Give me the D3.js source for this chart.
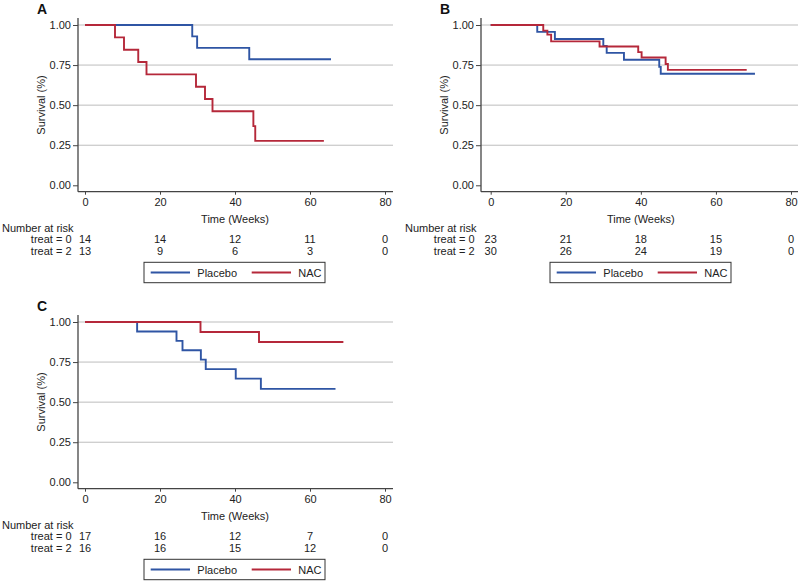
<!DOCTYPE html>
<html><head><meta charset="utf-8">
<script src="https://cdn.jsdelivr.net/npm/d3@7"></script>
<style>body{margin:0;background:#fff}svg{display:block}text{font-family:"Liberation Sans",Arial,sans-serif;fill:#222}</style>
</head><body>
<svg id="c" width="800" height="581"></svg>
<script>
const xTicks = [0, 20, 40, 60, 80];
const yTicks = [0, 0.25, 0.5, 0.75, 1];
const seriesNames = ["Placebo", "NAC"];
const riskLabels = ["treat = 0", "treat = 2"];

// Panel A
const aPlaceboT = [0, 28.6, 29.9, 43.8];
const aPlaceboS = [1, 0.929, 0.857, 0.786];
const aPlaceboEnd = 65.6;
const aNacT = [0, 8.0, 10.4, 14.2, 16.4, 29.6, 32.0, 34.0, 44.9, 45.4];
const aNacS = [1, 0.923, 0.846, 0.769, 0.692, 0.615, 0.538, 0.462, 0.369, 0.277];
const aNacEnd = 63.7;
const aRisk0 = [14, 14, 12, 11, 0];
const aRisk2 = [13, 9, 6, 3, 0];

// Panel B
const bPlaceboT = [0, 12.4, 17.1, 30.0, 30.9, 35.5, 44.9, 45.3];
const bPlaceboS = [1, 0.957, 0.913, 0.869, 0.826, 0.783, 0.739, 0.696];
const bPlaceboEnd = 70.4;
const bNacT = [0, 14.0, 15.1, 16.1, 29.0, 39.3, 40.2, 46.6, 47.2];
const bNacS = [1, 0.965, 0.94, 0.898, 0.866, 0.831, 0.797, 0.757, 0.72];
const bNacEnd = 68.2;
const bRisk0 = [23, 21, 18, 15, 0];
const bRisk2 = [30, 26, 24, 19, 0];

// Panel C
const cPlaceboT = [0, 13.9, 24.4, 26.0, 30.9, 32.2, 40.2, 46.9];
const cPlaceboS = [1, 0.941, 0.882, 0.824, 0.765, 0.706, 0.647, 0.583];
const cPlaceboEnd = 66.8;
const cNacT = [0, 30.8, 46.4];
const cNacS = [1, 0.9375, 0.875];
const cNacEnd = 68.9;
const cRisk0 = [17, 16, 12, 7, 0];
const cRisk2 = [16, 16, 15, 12, 0];

const colors = ["#2f55a4", "#b5283a"];
const svg = d3.select("#c");

function drawPanel(cfg) {
  const g = svg.append("g").attr("transform", `translate(0,${cfg.oy})`);
  const x = d3.scaleLinear().domain([0, 80]).range([cfg.x0, cfg.x80]);
  const y = d3.scaleLinear().domain([0, 1]).range([185.3, 25]);
  const axisX = cfg.axisX, bottom = 191.7, top = 18, right = cfg.right;

  g.append("text").attr("x", axisX - 41).attr("y", 14).attr("font-size", 14).attr("font-weight", "bold").style("fill", "#111").text(cfg.letter);

  g.selectAll(".grid").data(yTicks.filter(d => d > 0)).enter().append("line")
    .attr("x1", axisX).attr("x2", right).attr("y1", d => y(d)).attr("y2", d => y(d))
    .attr("stroke", "#bdbdbd").attr("stroke-width", 1);

  const ya = g.append("g").attr("transform", `translate(${axisX},0)`)
    .call(d3.axisLeft(y).tickValues(yTicks).tickFormat(d3.format(".2f")).tickSize(5).tickPadding(2));
  ya.select(".domain").remove();
  ya.selectAll("line").attr("stroke", "#444");
  ya.selectAll("text").attr("font-size", 11).style("fill", "#222");
  g.append("line").attr("x1", axisX).attr("x2", axisX).attr("y1", top).attr("y2", bottom).attr("stroke", "#444").attr("stroke-width", 1.3);

  const xa = g.append("g").attr("transform", `translate(0,${bottom})`)
    .call(d3.axisBottom(x).tickValues(xTicks).tickSize(3).tickPadding(4));
  xa.select(".domain").remove();
  xa.selectAll("line").attr("stroke", "#444");
  xa.selectAll("text").attr("font-size", 11).style("fill", "#222");
  g.append("line").attr("x1", axisX).attr("x2", right).attr("y1", bottom).attr("y2", bottom).attr("stroke", "#444").attr("stroke-width", 1.3);

  g.append("text").attr("transform", `translate(${axisX - 37},105) rotate(-90)`).attr("text-anchor", "middle").attr("dominant-baseline", "central").attr("font-size", 11).text("Survival (%)");
  g.append("text").attr("x", x(40)).attr("y", 219).attr("text-anchor", "middle").attr("dominant-baseline", "central").attr("font-size", 11).text("Time (Weeks)");

  const line = d3.line().x(d => x(d[0])).y(d => y(d[1])).curve(d3.curveStepAfter);
  cfg.series.forEach((s, i) => {
    const pts = s.t.map((t, j) => [t, s.s[j]]);
    pts.push([s.end, s.s[s.s.length - 1]]);
    g.append("path").datum(pts).attr("d", line).attr("fill", "none").attr("stroke", colors[i]).attr("stroke-width", 1.9);
  });

  g.append("text").attr("x", axisX - 76).attr("y", 227.7).attr("dominant-baseline", "central").attr("font-size", 11).text("Number at risk");
  [cfg.risk0, cfg.risk2].forEach((r, i) => {
    const yy = 239.3 + i * 11.4;
    g.append("text").attr("x", axisX - 6.5).attr("y", yy).attr("text-anchor", "end").attr("dominant-baseline", "central").attr("font-size", 11).text(riskLabels[i]);
    g.selectAll(null).data(r).enter().append("text")
      .attr("x", (d, j) => x(xTicks[j])).attr("y", yy).attr("text-anchor", "middle").attr("dominant-baseline", "central").attr("font-size", 11).text(d => d);
  });

  const lx = cfg.legX, ly = 262.3;
  g.append("rect").attr("x", lx).attr("y", ly).attr("width", 181).attr("height", 20.4).attr("fill", "#fff").attr("stroke", "#333").attr("stroke-width", 1);
  seriesNames.forEach((n, i) => {
    const ox = lx + 6.7 + i * 101;
    g.append("line").attr("x1", ox).attr("x2", ox + 39.3).attr("y1", ly + 10.2).attr("y2", ly + 10.2).attr("stroke", colors[i]).attr("stroke-width", 2);
    g.append("text").attr("x", ox + 46.6).attr("y", ly + 10.2).attr("dominant-baseline", "central").attr("font-size", 11).text(n);
  });
}

drawPanel({letter: "A", oy: 0, axisX: 78, x0: 85, x80: 385, right: 393, legX: 144,
  series: [{t: aPlaceboT, s: aPlaceboS, end: aPlaceboEnd}, {t: aNacT, s: aNacS, end: aNacEnd}], risk0: aRisk0, risk2: aRisk2});
drawPanel({letter: "B", oy: 0, axisX: 481, x0: 490.7, x80: 791, right: 798, legX: 550,
  series: [{t: bPlaceboT, s: bPlaceboS, end: bPlaceboEnd}, {t: bNacT, s: bNacS, end: bNacEnd}], risk0: bRisk0, risk2: bRisk2});
drawPanel({letter: "C", oy: 297, axisX: 78, x0: 85, x80: 385, right: 393, legX: 144,
  series: [{t: cPlaceboT, s: cPlaceboS, end: cPlaceboEnd}, {t: cNacT, s: cNacS, end: cNacEnd}], risk0: cRisk0, risk2: cRisk2});
</script>
</body></html>
